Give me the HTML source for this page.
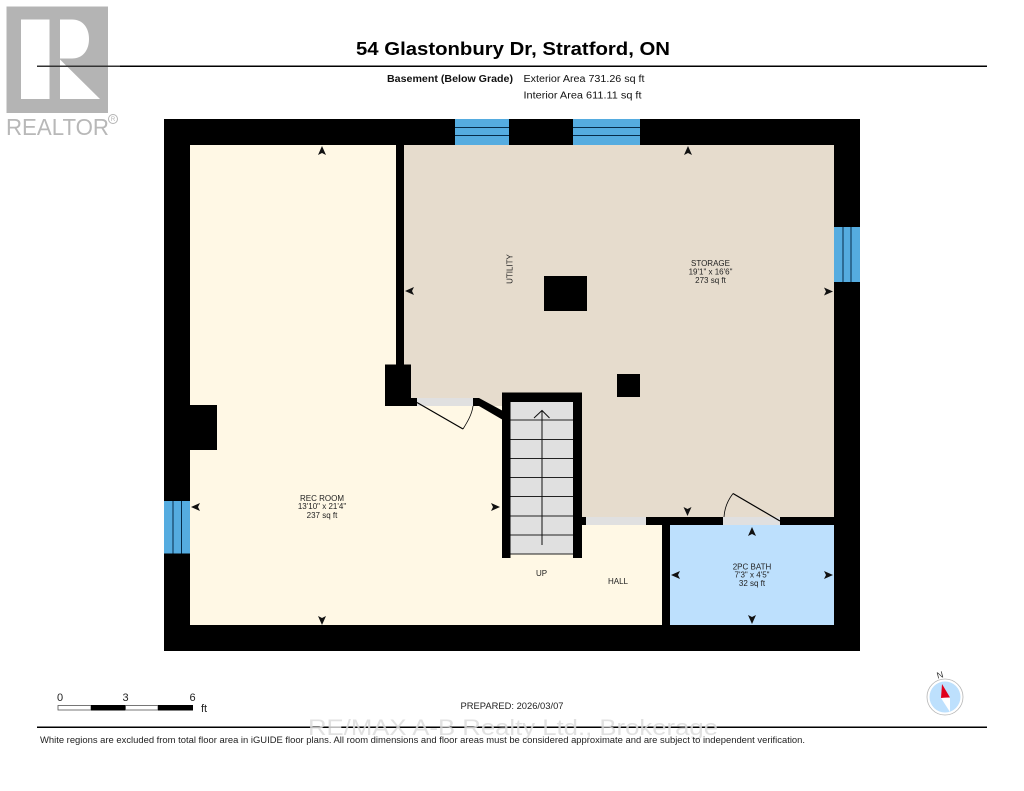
<!DOCTYPE html>
<html>
<head>
<meta charset="utf-8">
<style>
html,body{margin:0;padding:0;background:#fff;width:1024px;height:791px;overflow:hidden}
svg{display:block}
text{font-family:"Liberation Sans",sans-serif}
</style>
</head>
<body>
<svg width="1024" height="791" viewBox="0 0 1024 791" xmlns="http://www.w3.org/2000/svg">
<rect width="1024" height="791" fill="#fff"/>

<!-- Realtor logo -->
<rect x="6.500" y="6.500" width="101.500" height="106.500" fill="#b4b4b4"/>
<rect x="21" y="19.500" width="28.500" height="79.500" fill="#fff"/>
<path d="M60 19.500H72C83 19.500 89 28 89 39C89 50 83 58.500 72 58.500H60Z" fill="#fff"/>
<path d="M60 59.500L100 99H60Z" fill="#fff"/>
<text x="6" y="135" font-size="23" fill="#b8b8b8" textLength="103" lengthAdjust="spacingAndGlyphs">REALTOR</text>
<circle cx="113" cy="119" r="4.500" fill="none" stroke="#b4b4b4" stroke-width="1"/>
<text x="113" y="121" font-size="6" fill="#b4b4b4" text-anchor="middle">R</text>

<!-- Header -->
<rect x="37" y="65.500" width="950" height="1.500" fill="#000"/>
<rect x="37" y="65.500" width="83" height="1.500" fill="#333"/>
<text x="513" y="55" font-size="18.600" font-weight="bold" text-anchor="middle" fill="#000" textLength="314" lengthAdjust="spacingAndGlyphs">54 Glastonbury Dr, Stratford, ON</text>
<text x="387" y="82" font-size="9.700" font-weight="bold" fill="#111" textLength="126" lengthAdjust="spacingAndGlyphs">Basement (Below Grade)</text>
<text x="523.500" y="82" font-size="9.700" fill="#111" textLength="121" lengthAdjust="spacingAndGlyphs">Exterior Area 731.26 sq ft</text>
<text x="523.500" y="98.500" font-size="9.700" fill="#111" textLength="118" lengthAdjust="spacingAndGlyphs">Interior Area 611.11 sq ft</text>

<!-- Outer walls -->
<rect x="164" y="119" width="696" height="532" fill="#000"/>

<!-- Floors -->
<path d="M404 145H834V517H582V406H404Z" fill="#e6dccd"/>
<rect x="404" y="398" width="98" height="8" fill="#e6dccd"/>
<path d="M190 145H396V406H502V558H582V525H662V625H190Z" fill="#fff8e5"/>
<rect x="670" y="525" width="164" height="100" fill="#bde0fd"/>

<!-- Interior walls -->
<rect x="396" y="145" width="8" height="222" fill="#000"/>
<rect x="385" y="364.500" width="26" height="41.500" fill="#000"/>
<rect x="411" y="398" width="6" height="8" fill="#000"/>
<path d="M473 398H479L503 411V420L479 406H473Z" fill="#000"/>
<rect x="189" y="405" width="28" height="45" fill="#000"/>
<rect x="544" y="276" width="43" height="35" fill="#000"/>
<rect x="617" y="374" width="23" height="23" fill="#000"/>
<rect x="646" y="517" width="77" height="8" fill="#000"/>
<rect x="780" y="517" width="54" height="8" fill="#000"/>
<rect x="662" y="517" width="8" height="108" fill="#000"/>
<rect x="582" y="517" width="4" height="8" fill="#000"/>

<!-- Door openings -->
<rect x="417" y="398" width="56" height="8" fill="#e0e0e0"/>
<rect x="586" y="517" width="60" height="8" fill="#e0e0e0"/>
<rect x="723" y="517" width="57" height="8" fill="#e0e0e0"/>

<!-- Door swings -->
<path d="M417 402.500L463 429" fill="none" stroke="#000" stroke-width="1.200"/>
<path d="M463 429C468 421 472 414 473 406" fill="none" stroke="#000" stroke-width="0.800"/>
<path d="M780 521L733 493.500" fill="none" stroke="#000" stroke-width="1.200"/>
<path d="M733 493.500C728 500 724.500 508 724 517" fill="none" stroke="#000" stroke-width="0.800"/>

<!-- Stairs -->
<rect x="502" y="392.500" width="80" height="165.500" fill="#000"/>
<rect x="510.500" y="402" width="62.500" height="156" fill="#e0e0e0"/>
<rect x="510.500" y="554.500" width="62.500" height="3.500" fill="#fff8e5"/>
<g stroke="#222" stroke-width="1">
<path d="M510.500 420H573"/>
<path d="M510.500 439.500H573"/>
<path d="M510.500 458.500H573"/>
<path d="M510.500 477.500H573"/>
<path d="M510.500 496.500H573"/>
<path d="M510.500 516H573"/>
<path d="M510.500 535H573"/>
<path d="M510.500 554H573"/>
</g>
<path d="M542 545V410.500M534 418L542 410.500L549.500 418" fill="none" stroke="#111" stroke-width="1"/>

<!-- Windows -->
<g fill="#55ace0">
<rect x="455" y="119" width="54" height="26"/>
<rect x="573" y="119" width="67" height="26"/>
<rect x="834" y="227" width="26" height="55"/>
<rect x="164" y="501" width="26" height="52.500"/>
</g>
<g stroke="#062c4a" stroke-width="1">
<path d="M455 127.500H509M455 135.500H509"/>
<path d="M573 127.500H640M573 135.500H640"/>
<path d="M843 227V282M851 227V282"/>
<path d="M173 501V553.500M181.500 501V553.500"/>
</g>

<!-- Dimension arrowheads -->
<g fill="#111">
<path d="M322 146L326 155L322 153L318 155Z"/>
<path d="M322 625L318 616L322 618L326 616Z"/>
<path d="M191 507L200 503L198 507L200 511Z"/>
<path d="M500 507L491 503L493 507L491 511Z"/>
<path d="M688 146L692 155L688 153L684 155Z"/>
<path d="M687.500 516L683.500 507L687.500 509L691.500 507Z"/>
<path d="M405 291L414 287L412 291L414 295Z"/>
<path d="M833 291.500L824 287.500L826 291.500L824 295.500Z"/>
<path d="M752 527L756 536L752 534L748 536Z"/>
<path d="M752 624L748 615L752 617L756 615Z"/>
<path d="M671 575L680 571L678 575L680 579Z"/>
<path d="M833 575L824 571L826 575L824 579Z"/>
</g>

<!-- Room labels -->
<g font-size="8" fill="#222" text-anchor="middle">
<text x="322" y="501">REC ROOM</text>
<text x="322" y="509">13'10" x 21'4"</text>
<text x="322" y="518">237 sq ft</text>
<text x="710.500" y="266">STORAGE</text>
<text x="710.500" y="274.500">19'1" x 16'6"</text>
<text x="710.500" y="283">273 sq ft</text>
<text x="541.500" y="576">UP</text>
<text x="618" y="584">HALL</text>
<text x="752" y="569.500">2PC BATH</text>
<text x="752" y="577.500">7'3" x 4'5"</text>
<text x="752" y="586">32 sq ft</text>
<text transform="translate(512.500 269) rotate(-90)">UTILITY</text>
</g>

<!-- Scale bar -->
<rect x="58" y="705.500" width="33" height="4.500" fill="#fff" stroke="#555" stroke-width="0.800"/>
<rect x="91" y="705" width="34.500" height="5.500" fill="#000"/>
<rect x="125.500" y="705.500" width="32.500" height="4.500" fill="#fff" stroke="#555" stroke-width="0.800"/>
<rect x="158" y="705" width="35" height="5.500" fill="#000"/>
<g font-size="11" fill="#222" text-anchor="middle">
<text x="60" y="701">0</text>
<text x="125.500" y="701">3</text>
<text x="192.500" y="701">6</text>
<text x="204" y="712">ft</text>
</g>

<!-- Prepared -->
<text x="512" y="709" font-size="9.500" fill="#222" text-anchor="middle" textLength="103" lengthAdjust="spacingAndGlyphs">PREPARED: 2026/03/07</text>

<!-- Footer line -->
<rect x="37" y="726.500" width="950" height="1.500" fill="#000"/>

<!-- Watermark -->
<text x="308" y="735" font-size="22" fill="#dcdcdc" fill-opacity="0.85" textLength="410" lengthAdjust="spacingAndGlyphs">RE/MAX A-B Realty Ltd., Brokerage</text>

<!-- Footer text -->
<text x="40" y="743" font-size="8.900" fill="#222" textLength="765" lengthAdjust="spacingAndGlyphs">White regions are excluded from total floor area in iGUIDE floor plans. All room dimensions and floor areas must be considered approximate and are subject to independent verification.</text>

<!-- Compass -->
<circle cx="945" cy="697" r="18" fill="#fff" stroke="#b5b5b5" stroke-width="0.800"/>
<circle cx="945" cy="697" r="15.500" fill="#bde0fd"/>
<path d="M942 684L950 697.500L941 698Z" fill="#e0001b"/>
<path d="M941 698L950 697.500L950 712Z" fill="#fff"/>
<text x="940" y="678" font-size="9" fill="#333" text-anchor="middle" transform="rotate(-15 940 675)">N</text>
</svg>
</body>
</html>
